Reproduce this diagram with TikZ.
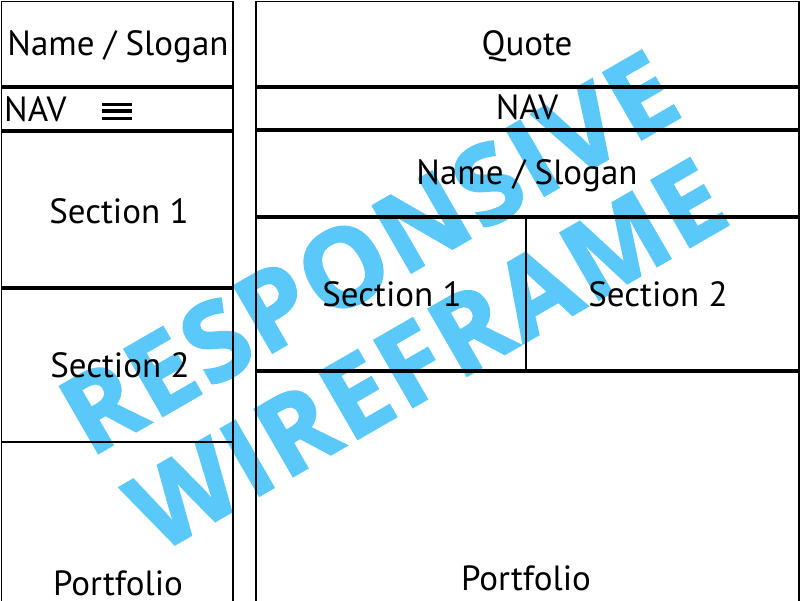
\documentclass[tikz,border=0pt]{standalone}
\usepackage{fontspec}
\setmainfont{PT Sans}
\newfontfamily\wmfont[LetterSpace=3,BoldFeatures={FakeBold=2}]{Open Sans}
\definecolor{wmblue}{RGB}{91,200,250}
\begin{document}
\begin{tikzpicture}[x=1pt,y=-1pt,
  thin line/.style={line width=1.8pt,black},
  thick line/.style={line width=3.5pt,black},
  lbl/.style={font=\fontsize{35}{35}\selectfont,anchor=base,inner sep=0pt},
  wm/.style={font=\wmfont\bfseries\fontsize{108}{108}\selectfont,text=wmblue,anchor=base,rotate=30,inner sep=0pt}]
\useasboundingbox (0,0) rectangle (800,600);
\clip (0,0) rectangle (800,600);
% watermark
\node[wm] (wm1) at (388,286) {RESPONSIVE};
\node[wm] (wm2) at (446,388) {WIREFRAME};
% left panel
\draw[thin line] (1.5,1.5) rectangle (233,610);
\draw[thick line] (1.5,87) -- (233,87);
\draw[thick line] (1.5,131) -- (233,131);
\draw[thick line] (1.5,288) -- (233,288);
\draw[thin line] (1.5,442) -- (233,442);
% right panel
\draw[thin line] (256,1.5) rectangle (799,610);
\draw[thick line] (256,87) -- (799,87);
\draw[thick line] (256,130) -- (799,130);
\draw[thick line] (256,217) -- (799,217);
\draw[thick line] (256,371) -- (799,371);
\draw[thin line] (526,217) -- (526,371);
% hamburger
\fill[black] (102,102.5) rectangle (131.5,106.2);
\fill[black] (102,109.2) rectangle (131.5,112.9);
\fill[black] (102,116.5) rectangle (131.5,120.2);
% left labels
\node[lbl] (lname) at (118,55) {Name / Slogan};
\node[lbl,anchor=base west] (lnav) at (4,121) {NAV};
\node[lbl] (ls1) at (119,223) {Section 1};
\node[lbl] (ls2) at (120,377) {Section 2};
\node[lbl] (lport) at (118,595) {Portfolio};
% right labels
\node[lbl] (rquote) at (527,55) {Quote};
\node[lbl] (rnav) at (527,119) {NAV};
\node[lbl] (rname) at (527,184) {Name / Slogan};
\node[lbl] (rs1) at (392,306) {Section 1};
\node[lbl] (rs2) at (658,306) {Section 2};
\node[lbl] (rport) at (526,590) {Portfolio};
\end{tikzpicture}
\end{document}
